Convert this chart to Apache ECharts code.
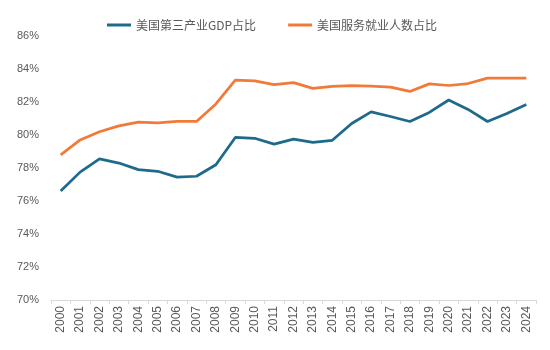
<!DOCTYPE html>
<html>
<head>
<meta charset="utf-8">
<script src="https://cdn.jsdelivr.net/npm/echarts@6/dist/echarts.min.js"></script>
<style>
  html, body { margin: 0; padding: 0; background: #fff; }
  #chart { width: 550px; height: 350px; }
</style>
</head>
<body>
<div id="chart"></div>
<script>
var years = ["2000", "2001", "2002", "2003", "2004", "2005", "2006", "2007", "2008", "2009",
  "2010", "2011", "2012", "2013", "2014", "2015", "2016", "2017", "2018", "2019",
  "2020", "2021", "2022", "2023", "2024"];
var gdpShare = [76.6, 77.75, 78.55, 78.3, 77.9, 77.8, 77.45, 77.5, 78.2, 79.85,
  79.8, 79.45, 79.75, 79.55, 79.68, 80.7, 81.4, 81.12, 80.82, 81.37,
  82.12, 81.55, 80.82, 81.3, 81.85];
var empShare = [78.8, 79.7, 80.2, 80.55, 80.78, 80.73, 80.82, 80.82, 81.88, 83.32,
  83.28, 83.05, 83.17, 82.83, 82.95, 82.99, 82.96, 82.9, 82.64, 83.1,
  83.0, 83.12, 83.45, 83.45, 83.45];

var chart = echarts.init(document.getElementById("chart"));
var option = {
  animation: false,
  grid: { left: 51, right: 14, top: 36, bottom: 50, containLabel: false },
  legend: {
    top: 14,
    left: 102,
    itemWidth: 24,
    itemHeight: 3,
    itemGap: 32,
    icon: "rect",
    textStyle: { color: "#595959", fontSize: 12, fontFamily: "Noto Sans CJK SC" },
    data: ["美国第三产业GDP占比", "美国服务就业人数占比"]
  },
  xAxis: {
    type: "category",
    data: years,
    boundaryGap: true,
    axisLine: { lineStyle: { color: "#d9d9d9" } },
    axisTick: { show: true, length: 4, lineStyle: { color: "#d9d9d9" } },
    axisLabel: { rotate: 90, color: "#595959", fontSize: 12, fontFamily: "Liberation Sans", margin: 6 }
  },
  yAxis: {
    type: "value",
    min: 70,
    max: 86,
    interval: 2,
    axisLine: { show: false },
    axisTick: { show: false },
    splitLine: { show: false },
    axisLabel: {
      color: "#595959", fontSize: 11, fontFamily: "Liberation Sans", margin: 12,
      formatter: function (v) { return v + "%"; }
    }
  },
  series: [
    {
      name: "美国第三产业GDP占比",
      type: "line",
      data: gdpShare,
      showSymbol: false,
      symbol: "none",
      lineStyle: { width: 2.75, color: "#1d6a8c" },
      itemStyle: { color: "#1d6a8c" }
    },
    {
      name: "美国服务就业人数占比",
      type: "line",
      data: empShare,
      showSymbol: false,
      symbol: "none",
      lineStyle: { width: 2.75, color: "#f27a39" },
      itemStyle: { color: "#f27a39" }
    }
  ]
};
chart.setOption(option);
</script>
</body>
</html>
